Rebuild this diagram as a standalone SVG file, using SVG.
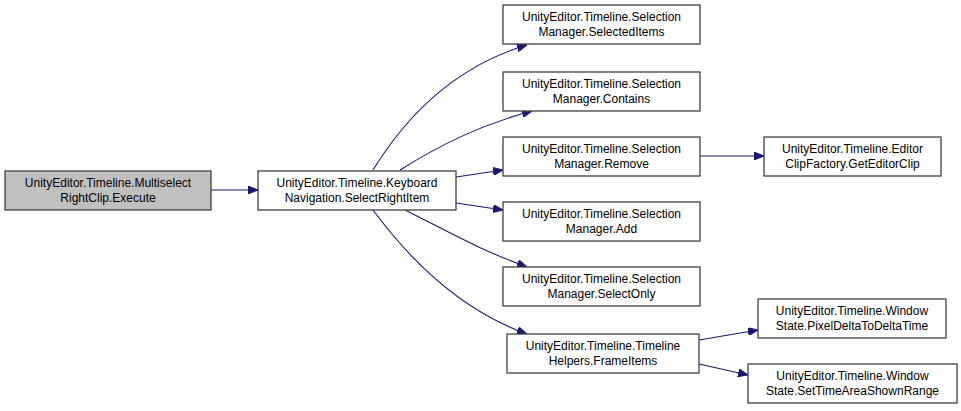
<svg xmlns="http://www.w3.org/2000/svg" width="961" height="411" viewBox="0 0 961 411">
<defs>
<marker id="ah" markerWidth="10" markerHeight="8" refX="10" refY="4" orient="auto" markerUnits="userSpaceOnUse">
<path d="M0,0 L10,4 L0,8 Z" fill="#191970" stroke="#191970" stroke-width="1"/>
</marker>
<style>
.n rect{fill:#fff;stroke:#404040;stroke-width:1.3}
.n.cur rect{fill:#bfbfbf}
.n text{font-family:"Liberation Sans",Arial,sans-serif;font-size:12px;fill:#000;text-anchor:middle}
.e path{fill:none;stroke:#191970;stroke-width:1.1;marker-end:url(#ah)}
</style>
</defs>
<rect width="961" height="411" fill="#fff"/>
<g class="e">
<path d="M211,190 L258,190"/>
<path d="M373,170 C410,110 460,65 527,45"/>
<path d="M400,170 C440,145 480,125 532,111"/>
<path d="M456,177 L503,170"/>
<path d="M456,203 L503,210"/>
<path d="M405,210 C445,230 480,250 527,267"/>
<path d="M373,210 C410,260 460,310 527,334"/>
<path d="M700,156 L764,156"/>
<path d="M699,340 L758,330"/>
<path d="M699,364 L748,375"/>
</g>
<g id="node0" class="n cur"><rect x="5" y="171" width="206" height="39"/><text x="108" y="187">UnityEditor.Timeline.Multiselect</text><text x="108" y="202">RightClip.Execute</text></g>
<g id="node1" class="n"><rect x="258" y="171" width="198" height="39"/><text x="357" y="187">UnityEditor.Timeline.Keyboard</text><text x="357" y="202">Navigation.SelectRightItem</text></g>
<g id="node2" class="n"><rect x="503" y="5" width="197" height="39"/><text x="601.5" y="21">UnityEditor.Timeline.Selection</text><text x="601.5" y="36">Manager.SelectedItems</text></g>
<g id="node3" class="n"><rect x="503" y="72" width="197" height="39"/><text x="601.5" y="88">UnityEditor.Timeline.Selection</text><text x="601.5" y="103">Manager.Contains</text></g>
<g id="node4" class="n"><rect x="503" y="137" width="197" height="39"/><text x="601.5" y="153">UnityEditor.Timeline.Selection</text><text x="601.5" y="168">Manager.Remove</text></g>
<g id="node5" class="n"><rect x="503" y="202" width="197" height="39"/><text x="601.5" y="218">UnityEditor.Timeline.Selection</text><text x="601.5" y="233">Manager.Add</text></g>
<g id="node6" class="n"><rect x="503" y="267" width="197" height="39"/><text x="601.5" y="283">UnityEditor.Timeline.Selection</text><text x="601.5" y="298">Manager.SelectOnly</text></g>
<g id="node7" class="n"><rect x="507" y="334" width="192" height="39"/><text x="603" y="350">UnityEditor.Timeline.Timeline</text><text x="603" y="365">Helpers.FrameItems</text></g>
<g id="node8" class="n"><rect x="764" y="137" width="177" height="39"/><text x="852.5" y="153">UnityEditor.Timeline.Editor</text><text x="852.5" y="168">ClipFactory.GetEditorClip</text></g>
<g id="node9" class="n"><rect x="758" y="299" width="188" height="39"/><text x="852" y="315">UnityEditor.Timeline.Window</text><text x="852" y="330">State.PixelDeltaToDeltaTime</text></g>
<g id="node10" class="n"><rect x="748" y="364" width="209" height="39"/><text x="852.5" y="380">UnityEditor.Timeline.Window</text><text x="852.5" y="395">State.SetTimeAreaShownRange</text></g>
</svg>
